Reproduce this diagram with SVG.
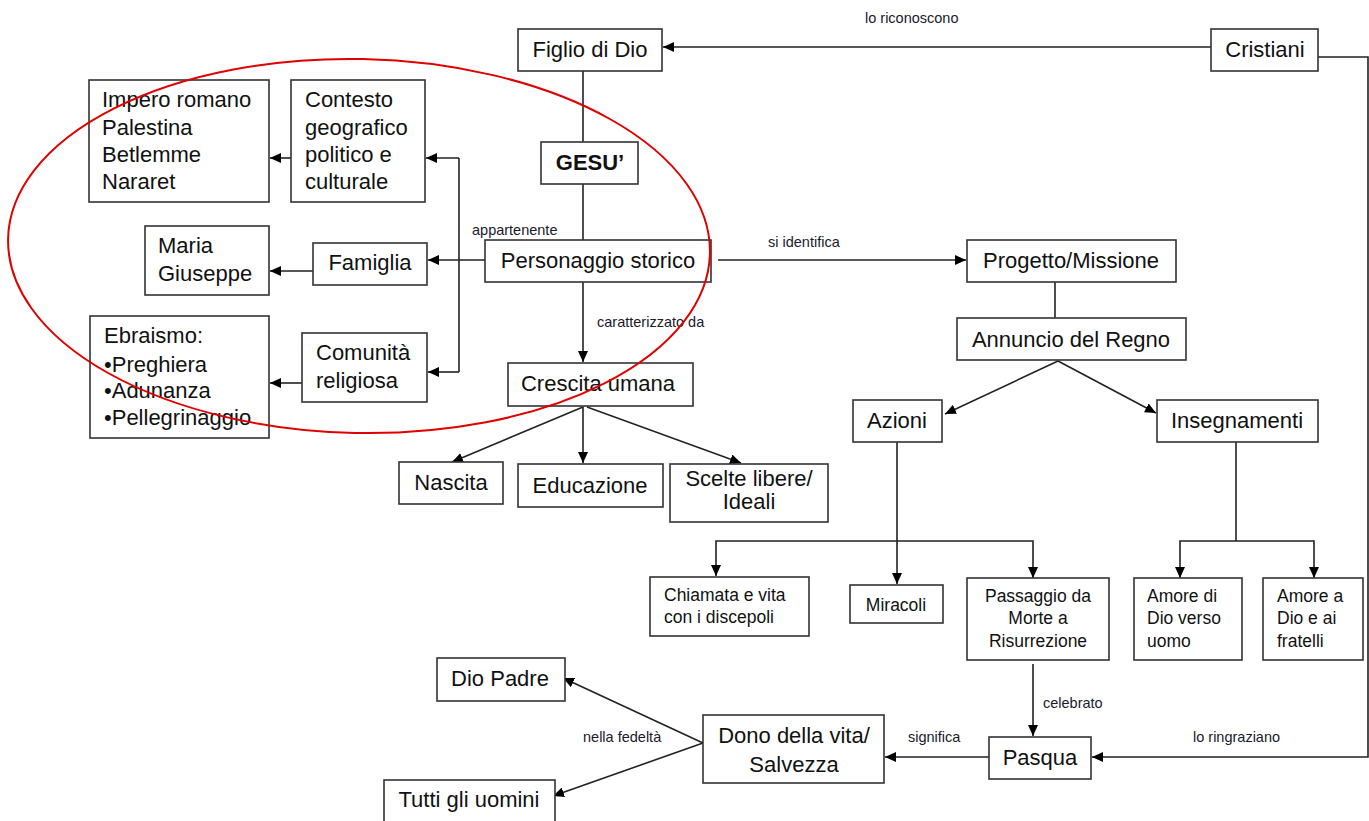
<svg xmlns="http://www.w3.org/2000/svg" width="1369" height="821" viewBox="0 0 1369 821">
<style>
.b{fill:#fff;stroke:#333;stroke-width:1.6}
.t{font-family:"Liberation Sans",Arial,sans-serif;font-size:22px;fill:#111}
.s{font-family:"Liberation Sans",Arial,sans-serif;font-size:17.5px;fill:#111}
.l{font-family:"Liberation Sans",Arial,sans-serif;font-size:14.5px;fill:#1a1a2a}
.c{text-anchor:middle}
.k{fill:none;stroke:#222;stroke-width:1.6}
.a{marker-end:url(#ar)}
</style>
<defs>
<marker id="ar" markerUnits="userSpaceOnUse" markerWidth="11" markerHeight="10" refX="11" refY="5" orient="auto">
<path d="M0,0 L11,5 L0,10 z" fill="#000"/>
</marker>
</defs>
<rect width="1369" height="821" fill="#fff"/>

<g id="connectors">
<path class="k a" d="M1211,47 H663"/>
<path class="k a" d="M1316,57 H1368 V757 H1092"/>
<path class="k" d="M583,71 V142"/>
<path class="k" d="M583,184 V240"/>
<path class="k a" d="M485,260 H428"/>
<path class="k" d="M459,158 V372"/>
<path class="k a" d="M459,158 H426"/>
<path class="k a" d="M459,372 H428"/>
<path class="k a" d="M301,158 H270"/>
<path class="k a" d="M313,271 H270"/>
<path class="k a" d="M302,383 H270"/>
<path class="k a" d="M583,282 V362"/>
<path class="k a" d="M583,407 L452,462"/>
<path class="k a" d="M583,407 V463"/>
<path class="k a" d="M587,407 L741,463"/>
<path class="k a" d="M718,260 H966"/>
<path class="k" d="M1055,282 V318"/>
<path class="k a" d="M1058,361 L945,414"/>
<path class="k a" d="M1058,361 L1156,413"/>
<path class="k a" d="M897,442 V584"/>
<path class="k a" d="M897,541 H716 V576"/>
<path class="k a" d="M897,541 H1033 V578"/>
<path class="k" d="M1236,442 V541"/>
<path class="k a" d="M1236,541 H1180 V578"/>
<path class="k a" d="M1236,541 H1314 V578"/>
<path class="k a" d="M1033,664 V736"/>
<path class="k a" d="M989,757 H885"/>
<path class="k a" d="M703,743 L563,678"/>
<path class="k a" d="M703,743 L553,796"/>
<text class="l" x="865" y="23">lo riconoscono</text>
<text class="l" x="472" y="235">appartenente</text>
<text class="l" x="768" y="247">si identifica</text>
<text class="l" x="597" y="327">caratterizzato da</text>
<text class="l" x="1043" y="708">celebrato</text>
<text class="l" x="908" y="742">significa</text>
<text class="l" x="1193" y="742">lo ringraziano</text>
<text class="l" x="583" y="742">nella fedeltà</text>
</g>

<g id="figlio"><rect class="b" x="518" y="29" width="144" height="42"/><text class="t c" x="590" y="57">Figlio di Dio</text></g>
<g id="cristiani"><rect class="b" x="1211" y="29" width="107" height="42"/><text class="t c" x="1265" y="57">Cristiani</text></g>
<g id="gesu"><rect class="b" x="541" y="142" width="97" height="42"/><text class="t c" x="590" y="170" font-weight="bold">GESU’</text></g>
<g id="impero"><rect class="b" x="89" y="80" width="180" height="122"/>
<text class="t" x="102" y="107">Impero romano</text><text class="t" x="102" y="135">Palestina</text><text class="t" x="102" y="162">Betlemme</text><text class="t" x="102" y="189">Nararet</text></g>
<g id="contesto"><rect class="b" x="291" y="80" width="134" height="122"/>
<text class="t" x="305" y="107">Contesto</text><text class="t" x="305" y="135">geografico</text><text class="t" x="305" y="162">politico e</text><text class="t" x="305" y="189">culturale</text></g>
<g id="maria"><rect class="b" x="145" y="226" width="124" height="69"/>
<text class="t" x="158" y="253">Maria</text><text class="t" x="158" y="281">Giuseppe</text></g>
<g id="famiglia"><rect class="b" x="313" y="243" width="114" height="42"/><text class="t c" x="370" y="270">Famiglia</text></g>
<g id="personaggio"><rect class="b" x="485" y="240" width="226" height="42"/><text class="t c" x="598" y="268">Personaggio storico</text></g>
<g id="progetto"><rect class="b" x="967" y="240" width="209" height="42"/><text class="t c" x="1071" y="268">Progetto/Missione</text></g>
<g id="ebraismo"><rect class="b" x="90" y="316" width="179" height="122"/>
<text class="t" x="104" y="343">Ebraismo:</text><text class="t" x="104" y="372">•Preghiera</text><text class="t" x="104" y="398">•Adunanza</text><text class="t" x="104" y="425">•Pellegrinaggio</text></g>
<g id="comunita"><rect class="b" x="302" y="333" width="125" height="69"/>
<text class="t" x="316" y="360">Comunità</text><text class="t" x="316" y="388">religiosa</text></g>
<g id="annuncio"><rect class="b" x="957" y="318" width="229" height="42"/><text class="t c" x="1071" y="347">Annuncio del Regno</text></g>
<g id="crescita"><rect class="b" x="508" y="363" width="185" height="43"/><text class="t c" x="598" y="391">Crescita umana</text></g>
<g id="azioni"><rect class="b" x="853" y="400" width="89" height="42"/><text class="t c" x="897" y="428">Azioni</text></g>
<g id="insegnamenti"><rect class="b" x="1157" y="400" width="161" height="42"/><text class="t c" x="1237" y="428">Insegnamenti</text></g>
<g id="nascita"><rect class="b" x="399" y="462" width="104" height="42"/><text class="t c" x="451" y="490">Nascita</text></g>
<g id="educazione"><rect class="b" x="518" y="464" width="145" height="43"/><text class="t c" x="590" y="493">Educazione</text></g>
<g id="scelte"><rect class="b" x="670" y="464" width="158" height="58"/>
<text class="t c" x="749" y="486" font-size="20">Scelte libere/</text><text class="t c" x="749" y="509" font-size="20">Ideali</text></g>
<g id="chiamata"><rect class="b" x="650" y="577" width="159" height="59"/>
<text class="s" x="664" y="601">Chiamata e vita</text><text class="s" x="664" y="623">con i discepoli</text></g>
<g id="miracoli"><rect class="b" x="850" y="585" width="93" height="38"/><text class="s c" x="896" y="611">Miracoli</text></g>
<g id="passaggio"><rect class="b" x="967" y="578" width="142" height="82"/>
<text class="s c" x="1038" y="602">Passaggio da</text><text class="s c" x="1038" y="624">Morte a</text><text class="s c" x="1038" y="647">Risurrezione</text></g>
<g id="amoredi"><rect class="b" x="1134" y="578" width="108" height="82"/>
<text class="s" x="1147" y="602">Amore di</text><text class="s" x="1147" y="624">Dio verso</text><text class="s" x="1147" y="647">uomo</text></g>
<g id="amorea"><rect class="b" x="1263" y="578" width="100" height="82"/>
<text class="s" x="1277" y="602">Amore a</text><text class="s" x="1277" y="624">Dio e ai</text><text class="s" x="1277" y="647">fratelli</text></g>
<g id="diopadre"><rect class="b" x="437" y="658" width="128" height="43"/><text class="t c" x="500" y="686">Dio Padre</text></g>
<g id="dono"><rect class="b" x="703" y="715" width="181" height="68"/>
<text class="t c" x="794" y="743">Dono della vita/</text><text class="t c" x="794" y="772">Salvezza</text></g>
<g id="pasqua"><rect class="b" x="989" y="737" width="102" height="42"/><text class="t c" x="1040" y="765">Pasqua</text></g>
<g id="tutti"><rect class="b" x="384" y="780" width="171" height="45"/><text class="t c" x="469" y="807">Tutti gli uomini</text></g>

<g id="highlight">
<ellipse cx="359" cy="246" rx="351" ry="187" transform="rotate(1.2 359 246)" fill="none" stroke="#e00000" stroke-width="2"/>
</g>
</svg>
